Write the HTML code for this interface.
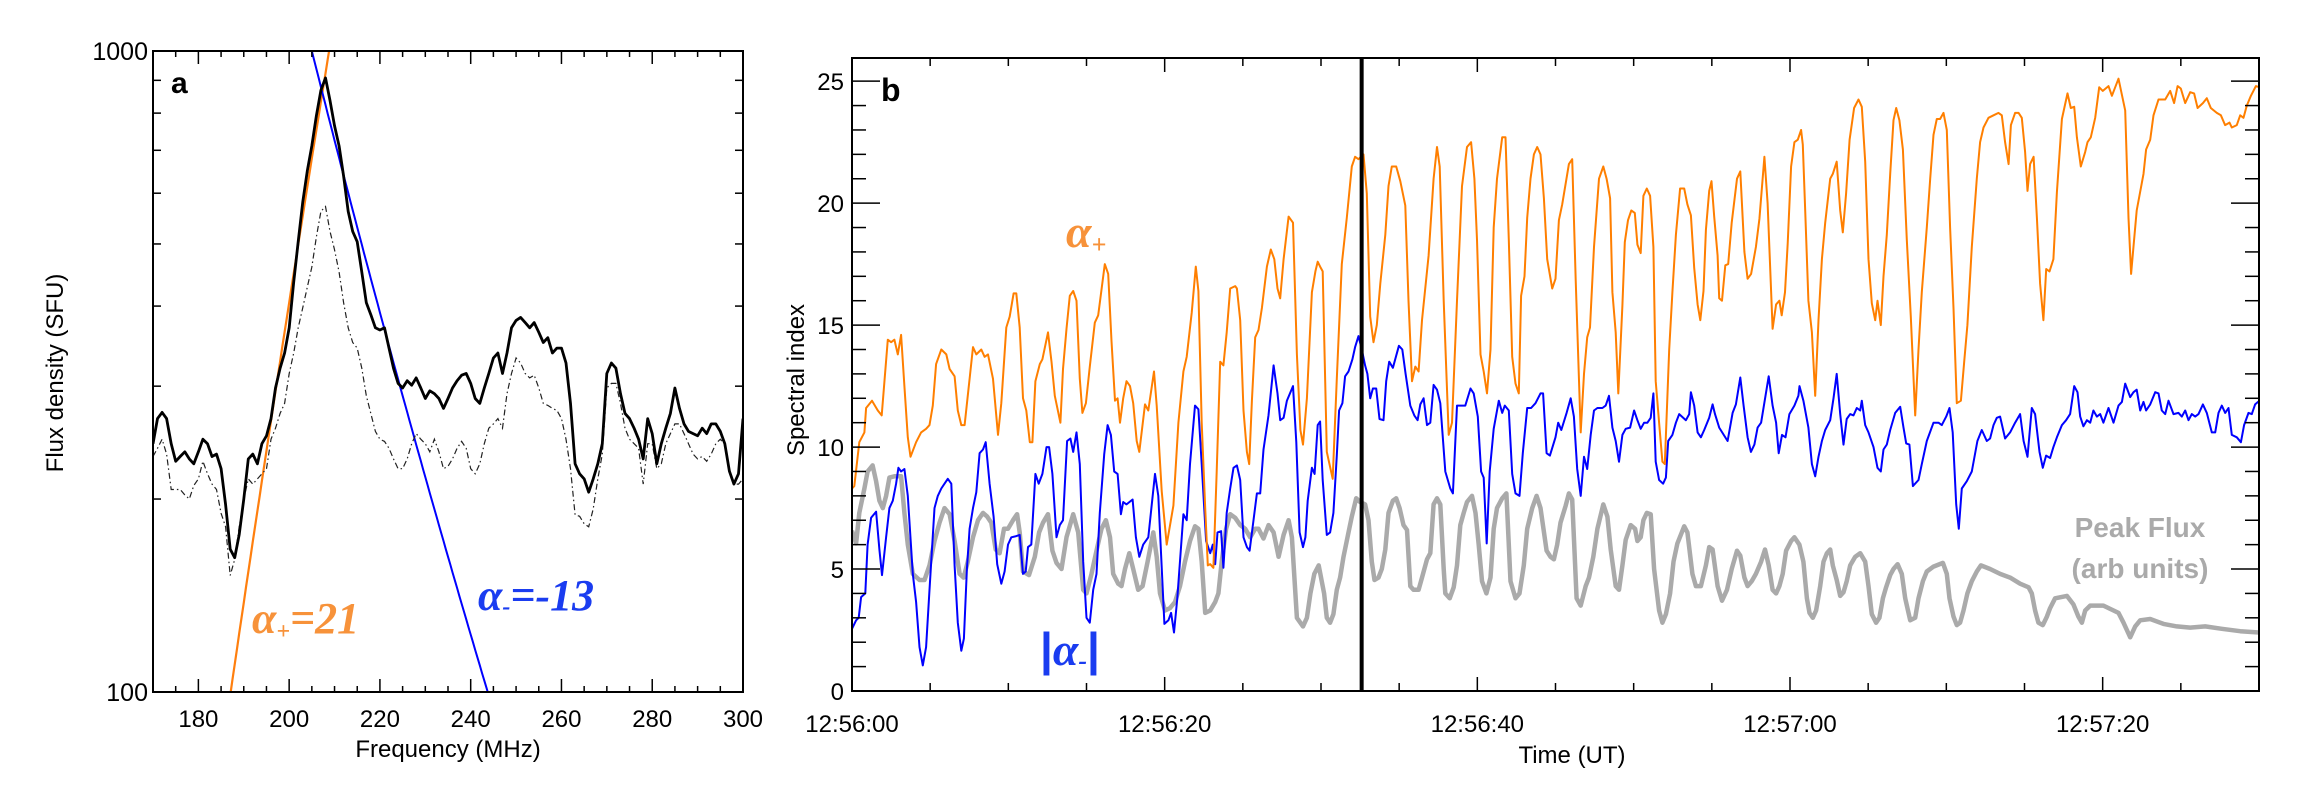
<!DOCTYPE html>
<html><head><meta charset="utf-8">
<style>
html,body{margin:0;padding:0;background:#fff;width:2316px;height:790px;overflow:hidden;}
svg{display:block;font-family:"Liberation Sans",sans-serif;}
</style></head>
<body>
<svg id="fig" width="2316" height="790" viewBox="0 0 2316 790" xmlns="http://www.w3.org/2000/svg">
<defs>
<clipPath id="clipA"><rect x="153" y="51" width="590" height="641"/></clipPath>
<clipPath id="clipB"><rect x="852" y="58" width="1407" height="634"/></clipPath>
</defs>
<g id="panelA"></g>
<g id="panelB"></g>
</svg>
<script>
// ---------- Panel a data ----------
const freqs = [];
for (let f = 170; f <= 300; f++) freqs.push(f);
const fluxSolid = [244,267,273,267,244,229,233,237,231,227,237,248,244,233,235,223,196,167,162,176,200,231,235,227,244,251,267,298,320,338,370,436,504,582,650,711,793,868,908,837,765,711,638,562,523,504,452,405,388,370,367,370,344,320,303,298,306,301,309,298,287,295,292,287,277,287,298,306,312,314,303,287,282,298,314,332,338,314,338,370,380,384,377,370,377,364,351,357,338,344,344,326,282,227,219,215,205,215,227,244,314,326,320,292,272,267,258,248,231,267,253,227,244,258,272,298,277,262,255,253,251,258,253,262,262,255,244,221,211,219,267];
const fluxDashed = [233,240,248,235,207,207,207,203,200,210,215,229,219,211,207,190,181,152,161,181,200,215,211,215,219,223,248,258,272,282,314,338,370,398,428,460,513,562,572,523,490,452,405,370,351,344,320,290,272,255,248,246,240,231,223,223,231,244,253,248,244,237,248,237,223,225,231,240,246,240,223,219,227,244,258,262,267,258,292,314,332,326,314,309,312,298,282,280,277,275,267,248,223,189,188,183,181,193,215,235,298,303,303,282,258,248,244,240,211,244,244,223,227,244,253,262,262,253,244,235,231,233,229,235,244,248,244,223,211,211,215];
const fitPlus = {alpha: 21, f0: 208.8, s0: 1000};
const fitMinus = {alpha: -13.3, f0: 205, s0: 1000};
const freqTicks = [180,200,220,240,260,280,300];
const fluxTicks = [100,1000];

// ---------- Panel b data ----------
const timeTickLabels = ["12:56:00","12:56:20","12:56:40","12:57:00","12:57:20"];
const timeTickValues = [0,20,40,60,80];
const indexTicks = [0,5,10,15,20,25];
const markerTime = 32.6;
const tPlus = [0.00,0.15,0.47,0.79,0.90,1.28,1.65,1.90,2.29,2.50,2.71,2.93,3.14,3.35,3.57,3.74,4.10,4.42,4.74,4.96,5.17,5.38,5.71,6.03,6.24,6.56,6.77,6.99,7.20,7.52,7.74,7.95,8.27,8.48,8.70,9.02,9.34,9.55,9.87,10.09,10.34,10.51,10.73,10.94,11.15,11.37,11.54,11.73,12.01,12.18,12.54,12.76,12.97,13.33,13.50,13.72,13.93,14.15,14.36,14.57,14.74,14.96,15.21,15.53,15.75,16.17,16.39,16.60,16.82,16.99,17.14,17.35,17.56,17.78,17.99,18.21,18.38,18.74,18.95,19.32,19.49,19.81,20.13,20.56,20.88,21.20,21.41,21.73,21.99,22.16,22.37,22.59,22.76,22.91,23.12,23.33,23.55,23.76,23.97,24.19,24.51,24.62,24.83,25.04,25.26,25.41,25.58,25.79,26.00,26.22,26.54,26.79,27.01,27.22,27.39,27.61,27.93,28.21,28.46,28.68,28.85,29.10,29.42,29.64,29.79,29.94,30.11,30.37,30.75,31.01,31.33,31.65,31.97,32.18,32.40,32.72,32.93,33.15,33.36,33.57,33.79,34.11,34.32,34.53,34.81,35.07,35.39,35.60,35.82,36.03,36.24,36.46,36.88,37.20,37.42,37.59,37.85,38.17,38.38,38.70,39.02,39.34,39.60,39.81,39.98,40.20,40.41,40.62,40.84,41.05,41.26,41.59,41.80,42.01,42.23,42.44,42.65,42.80,43.02,43.19,43.40,43.62,43.83,44.04,44.26,44.47,44.79,45.00,45.22,45.43,45.86,46.07,46.29,46.61,46.82,47.03,47.21,47.46,47.78,48.06,48.27,48.49,48.64,48.85,49.02,49.28,49.43,49.64,49.85,50.07,50.24,50.45,50.62,50.84,51.05,51.26,51.41,51.63,51.84,51.99,52.27,52.48,52.70,52.97,53.23,53.44,53.66,53.87,54.09,54.26,54.47,54.62,54.83,54.98,55.15,55.37,55.47,55.65,55.86,56.05,56.27,56.61,56.82,57.08,57.29,57.51,57.82,58.04,58.36,58.57,58.89,59.11,59.32,59.47,59.68,59.85,60.07,60.28,60.50,60.71,60.82,60.97,61.18,61.40,61.61,61.82,62.04,62.25,62.57,62.74,62.99,63.21,63.38,63.59,63.81,64.10,64.38,64.59,64.81,65.02,65.23,65.45,65.60,65.81,65.98,66.19,66.41,66.62,66.79,67.00,67.22,67.47,67.73,68.01,68.22,68.43,68.75,68.97,69.18,69.39,69.60,69.82,70.03,70.24,70.46,70.67,70.93,71.14,71.35,71.63,71.95,72.16,72.38,72.70,73.02,73.34,73.55,73.76,73.98,74.13,74.40,74.62,74.83,75.04,75.19,75.36,75.58,75.79,76.00,76.21,76.39,76.60,76.85,77.07,77.39,77.75,77.96,78.18,78.35,78.60,78.88,79.03,79.24,79.52,79.78,80.01,80.37,80.59,81.01,81.44,81.65,81.82,82.01,82.18,82.61,82.78,83.04,83.25,83.57,84.00,84.32,84.57,84.79,85.00,85.28,85.60,85.85,86.07,86.41,86.66,86.92,87.30,87.56,87.83,88.11,88.26,88.58,88.80,89.01,89.22,89.48,89.80,90.03];
const vPlus = [8.3,8.4,10.2,10.6,11.6,11.9,11.5,11.3,14.4,14.3,14.4,13.8,14.6,12.5,10.4,9.6,10.2,10.6,10.75,10.9,11.7,13.4,14.0,13.8,13.2,12.9,11.5,10.9,10.9,12.8,14.1,13.8,14.0,13.7,13.8,12.8,10.5,11.8,14.9,15.35,16.3,16.3,14.9,12.0,11.5,10.2,10.2,12.7,13.4,13.6,14.7,13.5,12.1,11.0,13.2,14.85,16.2,16.4,16.0,12.8,11.4,11.8,13.3,15.1,15.4,17.5,17.1,14.35,11.9,12.0,11.0,12.0,12.7,12.5,11.8,10.25,9.8,11.75,11.5,13.1,11.7,8.2,6.0,7.6,11.0,13.1,13.7,15.5,17.4,16.4,11.0,7.5,5.15,5.2,5.05,9.0,13.5,13.35,14.7,16.5,16.6,16.5,15.2,11.5,9.8,9.3,11.9,14.5,14.8,15.7,17.4,18.1,17.7,16.5,16.1,17.7,19.45,19.2,13.8,10.7,10.1,12.0,16.35,17.2,17.6,17.4,17.2,9.8,8.7,12.8,17.5,19.4,21.5,21.9,21.8,22.0,20.4,15.35,14.3,15.0,16.7,18.7,20.7,21.5,21.5,20.9,19.9,16.0,12.7,13.3,13.1,15.2,17.85,21.0,22.3,21.5,16.0,10.5,11.0,16.0,20.7,22.3,22.5,21.0,18.5,13.8,13.1,12.2,14.0,19.0,21.0,22.7,22.7,18.5,13.7,12.6,12.2,16.2,17.0,19.4,21.0,22.0,22.3,22.0,20.2,17.7,16.5,16.9,19.3,19.95,21.6,21.8,16.85,10.6,13.0,14.5,14.9,18.2,21.0,21.5,21.0,20.2,16.35,14.7,12.2,15.8,18.4,19.3,19.7,19.6,18.3,17.95,20.3,20.6,20.3,18.2,12.7,11.0,9.4,9.3,14.0,16.35,18.7,20.6,20.6,19.95,19.5,17.35,15.85,15.2,16.4,18.9,20.5,20.9,19.45,17.85,16.1,16.0,17.45,17.5,19.2,21.0,21.3,18.0,16.9,17.1,18.2,19.35,21.9,20.0,14.85,15.85,16.0,15.4,16.35,18.35,21.5,22.5,22.6,23.0,22.4,19.7,16.0,14.7,12.1,15.2,17.7,19.2,21.0,21.2,21.7,19.7,18.8,20.4,22.6,23.9,24.25,23.95,21.7,17.7,15.9,15.2,16.0,15.0,17.0,18.7,21.2,23.4,23.9,23.4,22.2,18.5,15.35,11.3,14.0,16.35,19.0,21.0,22.8,23.45,23.45,23.7,23.0,19.0,15.7,11.8,11.9,13.5,15.0,18.2,21.0,22.5,23.1,23.5,23.6,23.7,23.6,22.5,21.6,23.2,23.7,23.7,23.5,22.1,20.5,21.6,21.9,19.4,16.7,15.2,17.3,17.2,17.7,20.45,23.45,24.5,23.9,23.95,22.7,21.5,22.1,22.5,22.7,23.5,24.75,24.6,24.8,24.4,25.1,23.8,19.4,17.1,18.5,19.7,21.2,22.2,22.6,23.6,24.25,24.25,24.6,24.1,24.8,24.7,24.1,24.55,24.5,23.9,24.1,24.3,23.9,23.7,23.6,23.2,23.3,23.1,23.2,23.6,23.5,24.0,24.4,24.8,24.75];
const tMinus = [0.00,0.26,0.43,0.58,0.85,1.00,1.22,1.54,1.75,1.92,2.18,2.39,2.61,2.82,2.97,3.14,3.35,3.57,3.89,4.10,4.32,4.53,4.74,4.96,5.28,5.49,5.71,5.92,6.13,6.35,6.56,6.77,6.99,7.16,7.35,7.52,7.74,7.95,8.16,8.38,8.55,8.80,9.06,9.29,9.55,9.76,9.98,10.19,10.51,10.73,10.94,11.11,11.26,11.47,11.73,11.94,12.18,12.44,12.61,12.82,13.08,13.29,13.50,13.76,13.97,14.15,14.36,14.57,14.79,15.00,15.21,15.43,15.64,15.85,16.13,16.35,16.56,16.77,16.99,17.20,17.35,17.56,17.95,18.16,18.38,18.63,18.95,19.38,19.59,19.98,20.24,20.41,20.60,20.81,21.20,21.41,21.62,21.94,22.16,22.37,22.65,22.91,23.08,23.23,23.38,23.61,23.76,23.97,24.19,24.40,24.62,24.83,25.04,25.26,25.43,25.68,25.90,26.11,26.32,26.64,26.97,27.22,27.39,27.61,27.82,28.21,28.42,28.63,28.85,29.00,29.15,29.42,29.59,29.79,29.94,30.11,30.37,30.58,30.79,31.01,31.16,31.37,31.54,31.76,32.01,32.18,32.40,32.61,32.82,32.97,33.15,33.32,33.53,33.74,34.00,34.17,34.36,34.60,34.98,35.20,35.41,35.71,35.97,36.18,36.35,36.56,36.78,36.99,37.20,37.42,37.63,37.95,38.27,38.44,38.70,39.02,39.23,39.56,39.77,40.03,40.24,40.41,40.60,40.79,41.05,41.37,41.59,41.76,42.01,42.23,42.44,42.70,42.91,43.19,43.44,43.72,44.04,44.21,44.43,44.64,45.00,45.17,45.37,45.71,45.97,46.18,46.39,46.61,46.82,47.03,47.25,47.46,47.68,48.00,48.21,48.42,48.64,48.85,49.06,49.28,49.49,49.77,50.03,50.24,50.45,50.67,50.88,51.09,51.26,51.41,51.63,51.88,52.06,52.21,52.48,52.70,52.91,53.34,53.55,53.66,53.87,54.09,54.30,54.51,54.83,55.05,55.20,55.47,56.01,56.33,56.54,56.82,57.03,57.29,57.50,57.72,57.93,58.15,58.64,58.89,59.11,59.28,59.49,59.71,59.96,60.28,60.54,60.61,60.86,61.18,61.40,61.61,61.82,62.04,62.25,62.57,62.78,62.99,63.21,63.42,63.63,63.85,64.06,64.27,64.49,64.59,64.81,65.02,65.34,65.60,65.81,65.98,66.19,66.41,66.73,67.05,67.26,67.43,67.64,67.86,68.22,68.43,68.75,69.18,69.50,69.71,69.99,70.20,70.41,70.63,70.80,70.99,71.31,71.63,71.99,72.27,72.59,72.80,73.02,73.23,73.44,73.76,74.08,74.40,74.72,74.94,75.19,75.47,75.68,75.96,76.17,76.38,76.64,76.85,77.07,77.39,77.66,77.92,78.18,78.39,78.56,78.77,78.99,79.20,79.41,79.63,79.84,80.05,80.37,80.69,81.01,81.23,81.44,81.76,81.97,82.18,82.40,82.61,82.78,83.04,83.36,83.57,83.78,84.00,84.21,84.53,84.85,85.06,85.28,85.49,85.70,85.92,86.13,86.41,86.66,86.98,87.20,87.41,87.62,87.84,88.05,88.26,88.58,88.84,89.05,89.33,89.54,89.75,90.03];
const vMinus = [2.55,2.9,3.0,3.85,4.0,6.0,7.1,7.35,5.8,4.75,6.3,7.5,7.8,8.5,9.15,9.0,9.1,8.0,4.8,3.65,1.8,1.05,1.8,4.15,7.5,8.0,8.3,8.5,8.7,8.5,5.15,2.8,1.65,2.15,5.0,6.65,7.5,8.15,9.75,9.9,10.2,8.5,7.15,5.2,4.4,4.9,6.0,6.3,6.35,6.4,4.8,4.9,5.9,6.0,8.9,8.5,8.9,10.0,10.0,8.9,6.3,6.8,7.0,10.25,10.35,9.8,10.6,9.3,5.3,3.0,2.8,4.15,4.8,7.3,9.7,10.9,10.5,9.0,8.9,7.25,7.75,7.65,7.85,6.3,5.5,6.0,6.3,8.9,8.0,2.75,2.9,3.2,2.4,3.8,7.25,7.0,9.3,11.7,11.55,9.3,6.15,5.65,6.0,5.2,6.5,6.55,5.05,7.3,8.3,9.15,9.25,8.65,6.3,5.9,5.75,7.0,8.1,8.1,9.9,11.3,13.35,12.2,11.1,11.2,11.9,12.5,10.2,6.5,5.9,6.3,7.8,9.15,8.9,10.9,11.05,8.65,6.4,6.5,7.3,9.65,11.5,11.8,12.9,13.1,13.6,14.1,14.55,14.0,13.35,13.0,12.0,12.4,12.4,11.15,11.1,12.7,13.5,13.25,14.15,14.0,13.0,11.7,11.3,11.1,11.75,12.0,10.9,11.0,12.55,12.35,11.8,9.0,8.3,8.1,11.7,11.7,11.7,12.4,12.2,11.25,9.0,8.75,6.05,9.0,10.75,11.9,11.4,11.7,11.5,8.9,8.1,8.0,9.75,11.6,11.6,11.8,12.2,12.2,9.75,9.65,10.4,11.0,10.7,11.4,12.0,11.25,9.1,8.0,9.6,9.1,10.5,11.5,11.6,11.6,11.7,12.1,10.8,10.25,9.4,10.5,10.75,10.8,11.5,11.1,10.75,11.0,11.0,11.2,12.2,9.4,8.65,8.5,8.75,10.25,10.5,11.0,11.35,11.1,11.35,12.25,11.7,10.6,10.4,10.7,11.2,11.75,11.35,10.8,10.25,11.4,11.75,12.85,11.7,10.4,9.8,10.1,10.8,11.0,12.9,11.7,11.0,9.75,10.5,10.4,11.35,11.7,12.1,12.5,11.9,10.8,9.3,8.8,9.6,10.25,10.7,11.1,12.0,13.0,11.35,10.1,11.15,11.35,11.3,11.6,11.5,11.9,10.9,10.6,10.0,9.15,9.0,9.9,10.1,10.7,11.4,11.65,10.8,10.15,10.1,8.4,8.65,9.3,10.25,11.0,11.0,10.9,11.25,11.6,10.6,7.65,6.65,8.3,8.6,9.0,10.25,10.7,10.25,10.35,10.9,11.2,11.25,10.35,10.6,11.0,11.35,10.25,9.6,11.6,11.35,9.8,9.15,9.65,9.55,10.0,10.4,10.9,11.1,11.35,12.5,12.25,11.25,10.85,11.1,11.0,11.5,11.25,11.35,11.0,11.6,11.0,11.7,11.85,12.6,12.05,12.25,12.35,11.5,11.85,11.5,11.75,12.25,12.2,11.5,11.35,11.9,11.35,11.4,11.25,11.5,11.1,11.35,11.25,11.35,11.75,11.4,10.6,10.6,11.4,11.7,11.4,11.6,10.5,10.4,10.2,10.9,11.4,11.35,11.75,11.9];
const tPeak = [0.00,0.26,0.47,0.79,1.00,1.32,1.54,1.75,1.97,2.18,2.39,2.71,3.14,3.35,3.57,3.89,4.32,4.64,4.96,5.28,5.60,5.92,6.24,6.56,6.88,7.14,7.41,7.74,8.06,8.38,8.65,8.91,9.19,9.44,9.72,9.98,10.30,10.56,10.73,10.94,11.32,11.69,11.97,12.22,12.54,12.82,13.08,13.40,13.72,14.15,14.47,14.79,15.00,15.32,15.64,15.96,16.24,16.50,16.71,17.03,17.24,17.46,17.74,17.99,18.31,18.59,18.91,19.27,19.49,19.70,20.02,20.34,20.66,20.98,21.30,21.62,21.94,22.16,22.37,22.59,22.91,23.23,23.44,23.65,23.93,24.19,24.51,24.83,25.15,25.47,25.79,26.00,26.32,26.65,26.97,27.29,27.61,27.93,28.14,28.46,28.85,29.10,29.32,29.57,29.85,30.20,30.37,30.58,30.79,31.01,31.22,31.44,31.76,31.97,32.25,32.50,32.82,33.04,33.25,33.42,33.68,33.89,34.11,34.32,34.60,34.81,35.03,35.28,35.50,35.71,35.92,36.24,36.46,36.78,36.99,37.20,37.42,37.63,37.85,37.95,38.23,38.49,38.70,38.91,39.13,39.34,39.66,39.88,40.09,40.30,40.58,40.84,41.05,41.26,41.59,41.86,42.12,42.44,42.70,42.97,43.19,43.51,43.79,44.04,44.43,44.68,44.90,45.11,45.32,45.65,45.86,46.07,46.35,46.61,46.93,47.14,47.42,47.68,48.06,48.32,48.53,48.85,49.06,49.28,49.49,49.81,50.09,50.24,50.45,50.62,50.84,51.09,51.31,51.63,51.84,52.06,52.33,52.55,52.80,53.23,53.44,53.76,53.98,54.30,54.62,54.83,55.05,55.37,55.65,55.97,56.27,56.61,56.82,57.08,57.29,57.55,57.82,58.15,58.40,58.64,58.89,59.11,59.32,59.53,59.75,60.07,60.28,60.60,60.86,61.08,61.25,61.46,61.67,61.93,62.14,62.36,62.57,62.74,62.99,63.21,63.42,63.63,63.85,64.17,64.49,64.81,65.02,65.23,65.51,65.72,65.94,66.15,66.41,66.62,66.88,67.15,67.37,67.69,68.01,68.22,68.50,68.75,69.18,69.78,70.03,70.20,70.46,70.67,70.88,71.10,71.35,71.63,71.95,72.21,72.80,73.44,74.08,74.72,75.26,75.47,75.68,75.89,76.17,76.43,76.64,76.96,77.71,78.13,78.45,78.67,78.88,79.20,80.05,81.01,81.33,81.76,82.08,82.40,83.04,83.89,84.74,85.60,86.56,87.62,88.80,90.03];
const vPeak = [6.57,6.05,7.3,8.3,9.0,9.25,8.6,7.8,7.5,8.0,8.75,8.8,8.8,7.3,6.0,4.8,4.55,4.55,5.15,6.15,6.9,7.5,7.25,6.15,4.8,4.65,5.3,6.3,7.0,7.3,7.15,6.9,5.8,5.65,6.65,6.65,7.0,7.25,6.5,4.9,4.75,5.5,6.5,6.9,7.25,5.75,5.25,5.0,6.3,7.25,6.5,4.15,4.0,4.8,5.75,6.65,7.0,6.3,4.8,4.4,4.3,5.0,5.65,5.0,4.15,4.3,5.3,6.5,5.5,4.0,3.3,3.4,3.65,4.3,5.3,6.15,6.75,6.65,5.3,3.2,3.3,3.65,4.0,5.3,6.65,7.25,7.1,6.8,6.65,6.3,6.65,6.65,6.25,6.8,6.5,5.5,6.4,7.0,6.3,3.0,2.65,3.0,4.0,4.8,5.15,4.0,3.0,2.8,3.15,4.15,4.65,5.5,6.5,7.15,7.9,7.75,7.65,7.0,5.3,4.55,4.65,5.0,5.8,7.3,7.8,7.9,7.5,6.8,6.6,4.3,4.15,4.15,4.65,5.4,5.65,7.65,7.9,7.65,5.0,4.0,3.8,4.25,5.15,6.8,7.3,7.75,8.0,7.3,6.0,4.5,4.0,4.65,6.65,7.5,7.9,8.1,4.5,3.8,4.0,5.15,6.65,7.5,8.0,7.5,5.75,5.5,5.4,6.0,6.9,7.6,8.1,7.85,3.8,3.5,4.3,4.65,5.5,6.65,7.65,7.15,5.8,4.3,4.15,5.15,6.2,6.8,6.65,6.15,6.3,7.0,7.3,7.25,5.0,3.3,2.8,3.15,4.0,5.3,6.05,6.75,6.5,4.8,4.3,4.3,5.15,5.9,5.8,4.3,3.7,4.15,5.0,5.75,5.55,4.65,4.3,4.5,4.8,5.3,5.8,5.15,4.15,4.0,4.3,4.8,5.75,6.15,6.3,6.0,5.3,3.8,3.2,3.0,3.3,4.3,5.3,5.65,5.8,5.15,4.55,3.9,4.05,4.5,5.15,5.5,5.65,5.3,4.3,3.15,2.8,3.0,3.8,4.25,4.75,5.0,5.2,4.8,3.8,2.9,3.0,3.8,4.5,4.9,5.1,5.25,4.8,3.8,3.05,2.7,2.8,3.3,4.0,4.5,4.9,5.15,5.0,4.8,4.65,4.4,4.25,4.0,3.3,2.8,2.7,3.05,3.4,3.8,3.9,3.55,3.05,2.8,3.3,3.5,3.5,3.2,2.8,2.2,2.65,2.9,2.95,2.75,2.65,2.6,2.65,2.55,2.45,2.4];

const NS = "http://www.w3.org/2000/svg";
function mk(parent, tag, attrs, text) {
  const e = document.createElementNS(NS, tag);
  for (const k in attrs) e.setAttribute(k, attrs[k]);
  if (text !== undefined) e.textContent = text;
  parent.appendChild(e);
  return e;
}

// ================= Panel a =================
const A = {x0:153, x1:743, y0:51, y1:692, fmin:170, fmax:300};
const fx = f => A.x0 + (f - A.fmin) / (A.fmax - A.fmin) * (A.x1 - A.x0);
const sy = s => A.y1 - (Math.log10(s) - 2) * (A.y1 - A.y0);
const pa = document.getElementById('panelA');

const fitGroup = mk(pa, 'g', {'clip-path':'url(#clipA)'});


function fitPath(fit) {
  let d = '';
  for (let f = 170; f <= 300; f += 0.5) {
    const s = fit.s0 * Math.pow(f / fit.f0, fit.alpha);
    d += (d ? 'L' : 'M') + fx(f).toFixed(1) + ',' + sy(s).toFixed(1);
  }
  return d;
}
const fp = mk(fitGroup, 'path', {d: fitPath(fitPlus), fill:'none', stroke:'#ff7f0e', 'stroke-width':2.2});


const fm = mk(fitGroup, 'path', {d: fitPath(fitMinus), fill:'none', stroke:'#0000ff', 'stroke-width':2});



function seriesPath(xs, ys, X, Y) {
  return xs.map((v, i) => (i ? 'L' : 'M') + X(v).toFixed(1) + ',' + Y(ys[i]).toFixed(1)).join('');
}
const dl = mk(pa, 'path', {d: seriesPath(freqs, fluxDashed, fx, sy), fill:'none', stroke:'#222', 'stroke-width':1.2, 'stroke-dasharray':'6,3,1.5,3', 'clip-path':'url(#clipA)'});


const sl = mk(pa, 'path', {d: seriesPath(freqs, fluxSolid, fx, sy), fill:'none', stroke:'#000', 'stroke-width':2.8, 'stroke-linejoin':'round', 'clip-path':'url(#clipA)'});



const frameA = mk(pa, 'rect', {x:A.x0, y:A.y0, width:A.x1-A.x0, height:A.y1-A.y0, fill:'none', stroke:'#000', 'stroke-width':2});


const ticksA = mk(pa, 'g', {stroke:'#000', 'stroke-width':1.5});


for (let f = 170; f <= 300; f += 5) {
  const len = (f % 20 === 0) ? 13 : 6;
  mk(ticksA, 'line', {x1:fx(f), x2:fx(f), y1:A.y1, y2:A.y1-len});
  mk(ticksA, 'line', {x1:fx(f), x2:fx(f), y1:A.y0, y2:A.y0+len});
}
for (let s = 200; s <= 900; s += 100) {
  mk(ticksA, 'line', {x1:A.x0, x2:A.x0+8, y1:sy(s), y2:sy(s)});
  mk(ticksA, 'line', {x1:A.x1, x2:A.x1-8, y1:sy(s), y2:sy(s)});
}
freqTicks.forEach(f => {
  const t = mk(pa, 'text', {x:fx(f), y:727, 'font-size':24, 'text-anchor':'middle'}, String(f));
  
  
});
fluxTicks.forEach(s => {
  const t = mk(pa, 'text', {x:A.x0-5, y:sy(s)+9, 'font-size':25, 'text-anchor':'end'}, String(s));
  
  
});
const xtA = mk(pa, 'text', {x:448, y:757, 'font-size':24, 'text-anchor':'middle'}, 'Frequency (MHz)');


const ytA = mk(pa, 'text', {x:0, y:0, 'font-size':24, 'text-anchor':'middle', transform:'translate(63,373) rotate(-90)'}, 'Flux density (SFU)');


const la = mk(pa, 'text', {x:171, y:93, 'font-size':30, 'font-weight':'bold'}, 'a');


const lp = mk(pa, 'text', {x:252, y:633, 'font-size':44, 'font-weight':'bold', 'font-style':'italic', 'font-family':'"Liberation Serif",serif', fill:'#f7923a'});


lp.innerHTML = 'α<tspan font-size="24" dy="6">+</tspan><tspan dy="-6">=21</tspan>';
const lm = mk(pa, 'text', {x:478, y:610, 'font-size':44, 'font-weight':'bold', 'font-style':'italic', 'font-family':'"Liberation Serif",serif', fill:'#1a3cf0'});


lm.innerHTML = 'α<tspan font-size="24" dy="4">-</tspan><tspan dy="-4">=-13</tspan>';

// ================= Panel b =================
const B = {x0:852, x1:2259, y0:58, y1:691, tmax:90, vmax:25.95};
const tx = t => B.x0 + t / B.tmax * (B.x1 - B.x0);
const vy = v => B.y1 - v / B.vmax * (B.y1 - B.y0);
const pb = document.getElementById('panelB');

const gp = mk(pb, 'path', {d: seriesPath(tPeak, vPeak, tx, vy), fill:'none', stroke:'#aaaaaa', 'stroke-width':4.5, 'stroke-linejoin':'round', 'clip-path':'url(#clipB)'});


const bp = mk(pb, 'path', {d: seriesPath(tMinus, vMinus, tx, vy), fill:'none', stroke:'#0000ff', 'stroke-width':2, 'stroke-linejoin':'round', 'clip-path':'url(#clipB)'});


const op = mk(pb, 'path', {d: seriesPath(tPlus, vPlus, tx, vy), fill:'none', stroke:'#ff7f00', 'stroke-width':2, 'stroke-linejoin':'round', 'clip-path':'url(#clipB)'});


const vl = mk(pb, 'line', {x1:tx(markerTime), x2:tx(markerTime), y1:B.y0, y2:B.y1, stroke:'#000', 'stroke-width':4});



const frameB = mk(pb, 'rect', {x:B.x0, y:B.y0, width:B.x1-B.x0, height:B.y1-B.y0, fill:'none', stroke:'#000', 'stroke-width':2});


const ticksB = mk(pb, 'g', {stroke:'#000', 'stroke-width':1.5});


for (let t = 0; t <= 90; t += 5) {
  const len = (t % 20 === 0) ? 14 : 8;
  mk(ticksB, 'line', {x1:tx(t), x2:tx(t), y1:B.y1, y2:B.y1-len});
  mk(ticksB, 'line', {x1:tx(t), x2:tx(t), y1:B.y0, y2:B.y0+len});
}
for (let v = 1; v <= 25; v++) {
  const len = (v % 5 === 0) ? 28 : 14;
  mk(ticksB, 'line', {x1:B.x0, x2:B.x0+len, y1:vy(v), y2:vy(v)});
  mk(ticksB, 'line', {x1:B.x1, x2:B.x1-len, y1:vy(v), y2:vy(v)});
}
timeTickValues.forEach((t, i) => {
  const e = mk(pb, 'text', {x:tx(t), y:732, 'font-size':24, 'text-anchor':'middle'}, timeTickLabels[i]);
  
  
});
indexTicks.forEach(v => {
  const e = mk(pb, 'text', {x:B.x0-8, y:vy(v)+9, 'font-size':24, 'text-anchor':'end'}, String(v));
  
  
});
const xtB = mk(pb, 'text', {x:1572, y:763, 'font-size':24, 'text-anchor':'middle'}, 'Time (UT)');


const ytB = mk(pb, 'text', {x:0, y:0, 'font-size':24, 'text-anchor':'middle', transform:'translate(804,380) rotate(-90)'}, 'Spectral index');


const lb = mk(pb, 'text', {x:881, y:101, 'font-size':32, 'font-weight':'bold'}, 'b');


const ap = mk(pb, 'text', {x:1066, y:247, 'font-size':46, 'font-weight':'bold', 'font-style':'italic', 'font-family':'"Liberation Serif",serif', fill:'#f7923a'});


ap.innerHTML = 'α<tspan font-size="26" dy="6">+</tspan>';
const am = mk(pb, 'text', {x:1040, y:665, 'font-size':46, 'font-weight':'bold', 'font-style':'italic', 'font-family':'"Liberation Serif",serif', fill:'#1a3cf0'});


am.innerHTML = '<tspan font-style="normal" font-family="Liberation Sans">|</tspan>α<tspan font-size="26" dy="4">-</tspan><tspan dy="-4" font-style="normal" font-family="Liberation Sans">|</tspan>';
const pf1 = mk(pb, 'text', {x:2140, y:537, 'font-size':28, 'font-weight':'bold', 'text-anchor':'middle', fill:'#aaaaaa'}, 'Peak Flux');


const pf2 = mk(pb, 'text', {x:2140, y:578, 'font-size':28, 'font-weight':'bold', 'text-anchor':'middle', fill:'#aaaaaa'}, '(arb units)');


</script>
</body></html>
